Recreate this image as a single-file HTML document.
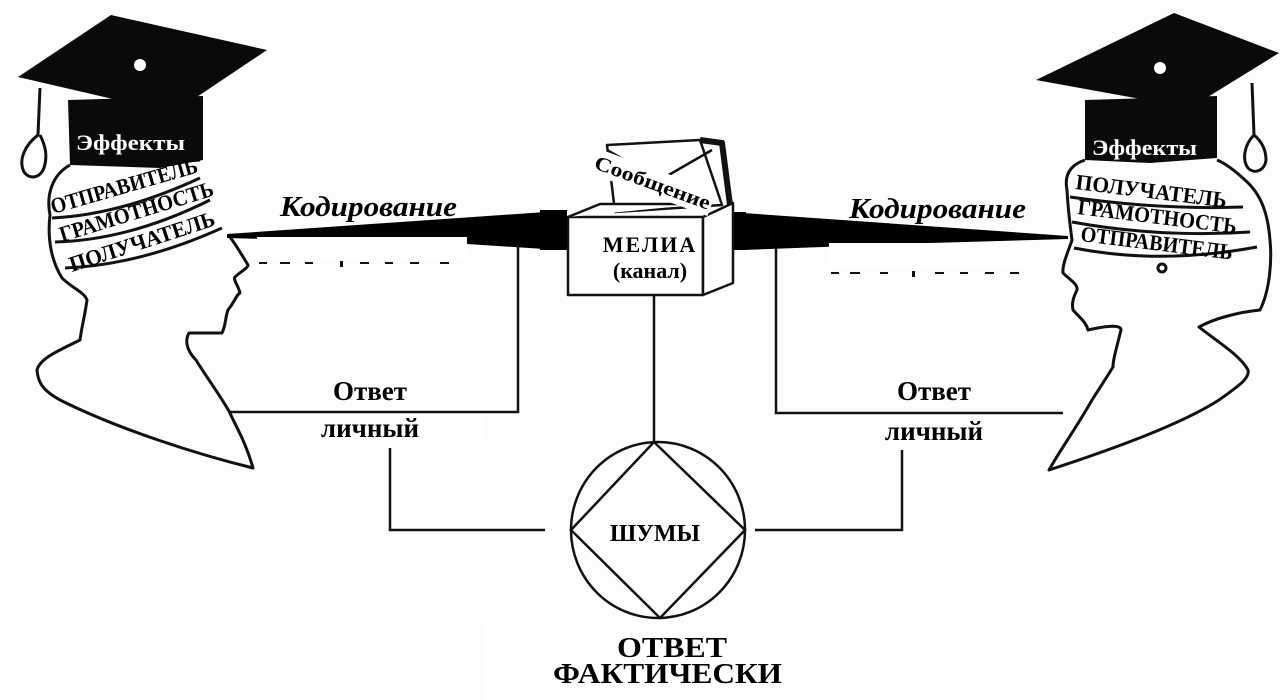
<!DOCTYPE html>
<html><head><meta charset="utf-8"><style>
html,body{margin:0;padding:0;background:#fff;}
svg{display:block;}
text{font-family:"Liberation Serif",serif;font-weight:bold;}
</style></head><body>
<svg width="1288" height="700" viewBox="0 0 1288 700" xmlns="http://www.w3.org/2000/svg">
<rect width="1288" height="700" fill="#fdfdfd"/>

<!-- ===== LEFT HEAD ===== -->
<g fill="none" stroke="#111" stroke-width="3" stroke-linejoin="round">
  <path d="M70,165 C52,175 46,195 50,215 C47,240 52,262 62,278 C72,288 84,292 87,300 C85,315 82,325 80,340 C60,350 40,358 37,370 C38,382 42,390 60,400 C120,430 200,455 253,468 C245,440 235,425 230,413 C220,395 205,375 196,360 C186,350 185,340 189,333 L222,333 C226,325 225,318 228,310 C236,300 236,295 240,293 C238,285 233,280 235,277 C240,272 248,268 248,265 C242,255 236,245 230,237"/>
  <path d="M52,218 Q120,215 200,178"/>
  <path d="M55,242 Q130,240 210,200"/>
  <path d="M65,268 Q140,265 222,228"/>
  <path d="M73,160 Q140,165 200,160"/>
  <path d="M40,88 L38,135 C25,145 18,160 24,172 C30,180 40,178 44,168 C48,155 45,145 40,135"/>
</g>
<polygon points="18,77 111,15 267,50 173,113" fill="#0a0a0a"/>
<polygon points="68,100 203,96 203,160 160,168 70,165" fill="#0a0a0a"/>
<circle cx="140" cy="65" r="6" fill="#fff"/>
<text x="76" y="150" font-size="22" fill="#fff" textLength="109" lengthAdjust="spacingAndGlyphs">Эффекты</text>
<text font-size="22" transform="translate(53,214) rotate(-16)" textLength="152" lengthAdjust="spacingAndGlyphs">ОТПРАВИТЕЛЬ</text>
<text font-size="22" transform="translate(62,242) rotate(-17)" textLength="160" lengthAdjust="spacingAndGlyphs">ГРАМОТНОСТЬ</text>
<text font-size="22" transform="translate(72,272) rotate(-18)" textLength="152" lengthAdjust="spacingAndGlyphs">ПОЛУЧАТЕЛЬ</text>

<!-- ===== RIGHT HEAD ===== -->
<g fill="none" stroke="#111" stroke-width="3" stroke-linejoin="round">
  <path d="M1085,160 C1070,165 1064,175 1067,190 C1068,210 1070,225 1072,240 C1068,252 1062,265 1063,273 C1070,280 1078,284 1077,290 C1072,300 1072,305 1073,310 C1080,318 1086,322 1088,330 C1110,325 1121,325 1121,330 C1116,350 1113,360 1113,367 C1105,380 1097,392 1092,400 C1075,430 1060,450 1049,470 C1110,450 1180,425 1219,400 C1240,385 1250,378 1248,370 C1240,355 1215,340 1199,327 C1215,318 1240,312 1260,310 C1270,290 1272,260 1270,240 C1268,215 1262,195 1245,180 C1232,168 1222,162 1217,160"/>
  <path d="M1070,197 Q1160,210 1243,207"/>
  <path d="M1072,222 Q1160,238 1250,232"/>
  <path d="M1074,248 Q1160,265 1257,247"/>
  <circle cx="1162" cy="268" r="4"/>
  <path d="M1252,83 L1254,135 C1244,145 1242,160 1248,168 C1255,175 1265,170 1266,160 C1266,148 1260,140 1254,135"/>
</g>
<polygon points="1036,80 1174,13 1279,53 1190,108" fill="#0a0a0a"/>
<polygon points="1085,100 1217,96 1217,158 1150,163 1085,160" fill="#0a0a0a"/>
<circle cx="1160" cy="68" r="6" fill="#fff"/>
<text x="1092" y="155" font-size="22" fill="#fff" textLength="105" lengthAdjust="spacingAndGlyphs">Эффекты</text>
<text font-size="22" transform="translate(1075,189) rotate(7)" textLength="152" lengthAdjust="spacingAndGlyphs">ПОЛУЧАТЕЛЬ</text>
<text font-size="22" transform="translate(1077,214) rotate(7)" textLength="160" lengthAdjust="spacingAndGlyphs">ГРАМОТНОСТЬ</text>
<text font-size="22" transform="translate(1080,241) rotate(7)" textLength="153" lengthAdjust="spacingAndGlyphs">ОТПРАВИТЕЛЬ</text>

<!-- ===== BEAMS ===== -->
<polygon points="227,234 560,211 560,250 467,244 227,238" fill="#000"/>
<polygon points="743,213 1068,236 1068,239 930,243 743,250" fill="#000"/>
<rect x="257" y="237" width="210" height="22" fill="#fff"/>
<rect x="829" y="243" width="201" height="26" fill="#fff"/>
<g fill="#111">
  <rect x="259" y="262" width="8" height="2"/><rect x="280" y="262" width="10" height="2"/><rect x="305" y="262" width="8" height="2"/><rect x="340" y="261" width="3" height="6"/><rect x="360" y="262" width="9" height="2"/><rect x="385" y="262" width="8" height="2"/><rect x="410" y="262" width="9" height="2"/><rect x="440" y="262" width="9" height="2"/>
  <rect x="831" y="272" width="8" height="2"/><rect x="850" y="272" width="10" height="2"/><rect x="880" y="272" width="8" height="2"/><rect x="912" y="271" width="3" height="6"/><rect x="935" y="272" width="9" height="2"/><rect x="960" y="272" width="8" height="2"/><rect x="985" y="272" width="9" height="2"/><rect x="1010" y="272" width="9" height="2"/>
</g>
<text x="280" y="216" font-size="28" font-style="italic" textLength="177" lengthAdjust="spacingAndGlyphs">Кодирование</text>
<text x="849" y="218" font-size="28" font-style="italic" textLength="177" lengthAdjust="spacingAndGlyphs">Кодирование</text>

<!-- ===== MEDIA BOX ===== -->
<g stroke="#111" stroke-width="2.5" fill="#fff" stroke-linejoin="round">
  <polygon points="607,145 700,140 722,205 615,212" fill="#fff"/>
  <polyline points="700,140 722,143 730,205" fill="none" stroke-width="6"/>
  <polyline points="607,150 660,180 712,150" fill="none"/>
  <polygon points="568,217 703,217 703,295 568,295"/>
  <polygon points="703,217 733,203 733,283 703,295"/>
  <polyline points="568,217 600,204 703,204"/>
</g>
<rect x="540" y="210" width="27" height="40" fill="#000"/>
<rect x="734" y="212" width="12" height="38" fill="#000"/>
<g transform="translate(593,168) rotate(20)">
  <rect x="-2" y="-20" width="126" height="26" fill="#fff"/>
  <text x="0" y="0" font-size="20" textLength="122" lengthAdjust="spacingAndGlyphs">Сообщение</text>
</g>
<text x="650" y="252" font-size="22" text-anchor="middle" letter-spacing="2">МЕЛИА</text>
<text x="650" y="278" font-size="22" text-anchor="middle">(канал)</text>

<!-- ===== CONNECTORS ===== -->
<g stroke="#111" stroke-width="2.5" fill="none">
  <polyline points="518,243 518,412 230,412"/>
  <polyline points="776,248 776,413 1063,413"/>
  <line x1="654" y1="295" x2="654" y2="442"/>
  <polyline points="390,448 390,530 545,530"/>
  <polyline points="902,450 902,530 755,530"/>
  <ellipse cx="658" cy="530" rx="87" ry="88"/>
  <polygon points="654,442 745,530 660,618 571,530"/>
</g>
<rect x="255" y="415" width="230" height="25" fill="#fff"/>
<rect x="485" y="625" width="373" height="75" fill="#fff"/>

<text x="370" y="400" font-size="27" text-anchor="middle">Ответ</text>
<text x="370" y="437" font-size="27" text-anchor="middle">личный</text>
<text x="934" y="400" font-size="27" text-anchor="middle">Ответ</text>
<text x="934" y="440" font-size="27" text-anchor="middle">личный</text>
<text x="655" y="541" font-size="24" text-anchor="middle">ШУМЫ</text>
<text x="617" y="657" font-size="28" textLength="110" lengthAdjust="spacingAndGlyphs">ОТВЕТ</text>
<text x="553" y="683" font-size="28" textLength="229" lengthAdjust="spacingAndGlyphs">ФАКТИЧЕСКИ</text>
</svg>
</body></html>
